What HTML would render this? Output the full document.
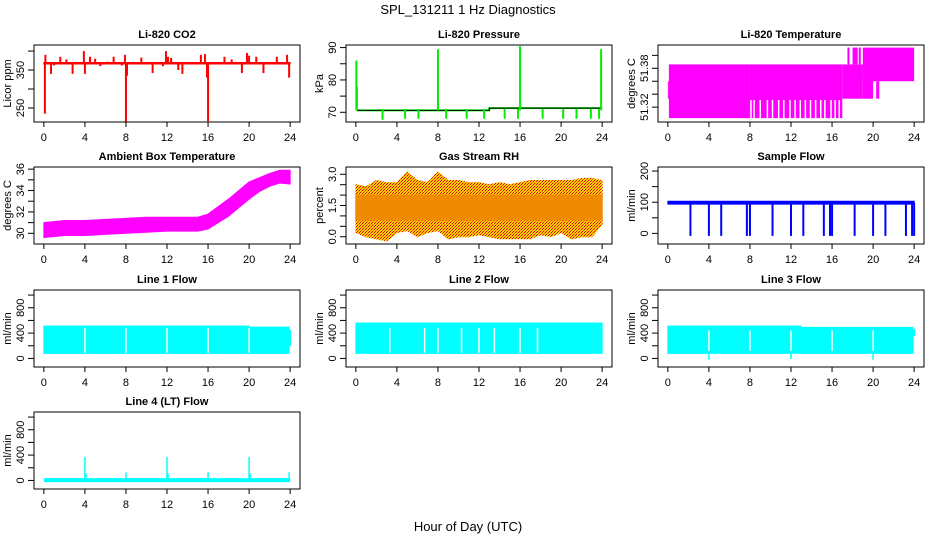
<!DOCTYPE html>
<html><head><meta charset="utf-8"><style>
html,body{margin:0;padding:0;background:#fff;}
svg{display:block;font-family:"Liberation Sans",Arial,sans-serif;}
</style></head><body>
<svg id="chart" width="936" height="540" viewBox="0 0 936 540" xmlns="http://www.w3.org/2000/svg">
<defs>
<pattern id="rhPat" width="3" height="3" patternUnits="userSpaceOnUse">
<rect width="3" height="3" fill="#ffd000"/>
<rect x="0" y="0" width="1" height="1" fill="#e00000"/>
<rect x="2" y="1" width="1" height="1" fill="#e00000"/>
<rect x="1" y="2" width="1" height="1" fill="#f06000"/>
</pattern>
</defs>
<text x="468" y="14" font-size="13" text-anchor="middle">SPL_131211  1 Hz Diagnostics</text>
<text x="468" y="531" font-size="13" text-anchor="middle">Hour of Day (UTC)</text>
</svg>
<script>
// ---- data ----
const xTicks = [0,4,8,12,16,20,24];

const co2BandT = [0,24];
const co2BandLo = [366,366];
const co2BandHi = [370,370];
const co2SpikeT = [0.1,0.15,0.7,1.0,1.6,2.2,2.8,3.9,4.0,4.5,5.0,5.5,6.2,6.8,7.6,7.9,8.0,8.1,9.5,10.6,11.6,11.9,12.1,12.4,13.1,13.5,15.3,15.7,15.9,16.0,17.6,18.3,19.3,19.8,20.0,20.7,21.4,22.7,23.7,23.9];
const co2SpikeV = [235,390,340,362,385,378,340,400,340,385,380,360,372,385,362,390,213,335,383,342,360,400,385,382,350,340,390,392,330,215,385,378,342,395,388,385,342,385,390,330];
const co2Ticks = [250,300,350,400];
const co2Labels = ["250","","350",""];

const presT = [0.1,13,13,24];
const presV = [70.6,70.6,71.3,71.3];
const presSpikeT = [0.05,0.1,8,16,23.9];
const presSpikeV = [86,78,89.5,90.5,89.5];
const presDipT = [2.6,4.8,6.1,8.8,10.8,12.5,14.5,15.8,18.2,20.2,21.5,22.9,23.7];
const presDipV = [67.7,68,68,68,68,68,68,68,68,68,68,68,68];
const presTicks = [70,75,80,85,90];
const presLabels = ["70","","80","","90"];

const tempT0 = [0,0.1,8,17,19,20.3,17.5,18,18.6,19];
const tempT1 = [0.1,8,17,19,20,20.6,17.7,18.5,18.8,24];
const tempLo = [51.333,51.303,51.303,51.333,51.333,51.333,51.386,51.386,51.386,51.36];
const tempHi = [51.36,51.386,51.386,51.386,51.386,51.36,51.412,51.412,51.412,51.412];
const tempGapT = [8.1,8.4,9.0,9.7,10.2,10.8,11.3,11.9,12.4,12.9,13.4,13.9,14.4,14.9,15.3,15.9,16.3,16.7];
const tempTicks = [51.32,51.34,51.36,51.38,51.40];
const tempLabels = ["51.32","","","51.38",""];

const ambT = [0,2,4,6,8,10,12,14,15,16,17,18,19,20,21,22,23,24];
const ambLo = [29.6,29.8,29.8,29.9,30.0,30.1,30.2,30.2,30.2,30.4,31.0,31.6,32.4,33.2,33.9,34.4,34.7,34.6];
const ambHi = [31.0,31.2,31.2,31.3,31.4,31.5,31.5,31.5,31.5,31.8,32.5,33.2,34.0,34.8,35.2,35.6,35.9,35.9];
const ambTicks = [30,31,32,33,34,35,36];
const ambLabels = ["30","","32","","34","","36"];

const rhT = [0,1,2,3,4,5,6,7,8,9,10,11,12,13,14,15,16,17,18,19,20,21,22,23,24];
const rhMax = [2.5,2.4,2.7,2.6,2.6,3.1,2.7,2.6,3.1,2.7,2.7,2.6,2.6,2.5,2.6,2.5,2.6,2.7,2.7,2.7,2.7,2.7,2.8,2.8,2.7];
const rhMin = [0.2,0.0,-0.1,-0.2,0.2,0.3,0.0,0.2,0.3,-0.1,0.0,0.0,0.1,0.0,-0.1,-0.1,-0.1,-0.1,0.1,0.0,0.2,-0.1,0.0,0.0,0.6];
const rhTicks = [0,0.5,1,1.5,2,2.5,3];
const rhLabels = ["0.0","","","1.5","","","3.0"];

const sfBandT = [0,24];
const sfBandLo = [94,94];
const sfBandHi = [103,103];
const sfDipT = [2.2,4.0,5.2,7.7,8.0,10.2,12.0,13.2,15.2,15.8,16.0,18.2,20.0,21.2,23.2,23.8,24.0];
const sfDipV = [-8,-8,-8,-8,-8,-8,-8,-8,-8,-8,-8,-8,-8,-8,-8,-8,-8];
const sfTicks = [0,50,100,150,200];
const sfLabels = ["0","","100","","200"];

const flowTicks = [0,200,400,600,800,1000];
const flowLabels = ["0","","400","","800",""];
const l1T = [0,20,20,23.9];
const l1Lo = [80,80,80,80];
const l1Hi = [510,510,495,495];
const l1GapT = [4,8,12,16,20];
const l2T = [0,24];
const l2Lo = [80,80];
const l2Hi = [560,560];
const l2GapT = [3.3,6.7,8,10.3,12,13.5,16,17.7];
const l3T = [0,13,13,23.9];
const l3Lo = [80,80,80,80];
const l3Hi = [510,510,490,490];
const l3GapT = [4,8,12,16,20];
const l3DipT = [4.0,12.0,20.0];
const l3DipV = [-20,-10,-20];
const l4T = [0,24];
const l4V = [5,5];
const l4SpikeT = [4,4.1,8,12,12.1,16,20,20.1,23.9];
const l4SpikeV = [370,110,130,370,110,130,370,110,130];

// ---- drawing ----
const svg = document.getElementById('chart');
const NS = 'http://www.w3.org/2000/svg';
const colL = [34,346,658], rowT = [45,167,290,412], PW = 266, PH = 77;
function mk(tag, attrs, parent){
  const e = document.createElementNS(NS, tag);
  for (const k in attrs) e.setAttribute(k, attrs[k]);
  (parent||svg).appendChild(e);
  return e;
}
let clipN = 0;
function panel(col,row,ymin,ymax,title,ylab,yticks,ylabels,name){
  const L = colL[col], T = rowT[row];
  const g = mk('g',{});
  
  
  const sx = t => L + (t+0.96)/25.92*PW;
  const sy = v => T + PH*(ymax-v)/(ymax-ymin);
  const id = 'clip'+(clipN++);
  const cp = mk('clipPath',{id:id},g);
  mk('rect',{x:L,y:T,width:PW,height:PH},cp);
  const plot = mk('g',{'clip-path':'url(#'+id+')'},g);
  
  
  const box = mk('rect',{x:L,y:T,width:PW,height:PH,fill:'none',stroke:'#000','stroke-width':1},g);
  
  
  const tt = mk('text',{x:L+PW/2,y:T-7,'font-size':11,'font-weight':'bold','text-anchor':'middle'},g);
  tt.textContent = title;
  
  
  const xa = mk('g',{},g);
  
  
  mk('line',{x1:sx(xTicks[0]),x2:sx(xTicks[xTicks.length-1]),y1:T+PH,y2:T+PH,stroke:'#000'},xa);
  xTicks.forEach(t=>{
    mk('line',{x1:sx(t),x2:sx(t),y1:T+PH,y2:T+PH+5,stroke:'#000'},xa);
    const tx = mk('text',{x:sx(t),y:T+PH+19,'font-size':11,'text-anchor':'middle'},xa);
    tx.textContent = t;
    
    
  });
  const ya = mk('g',{},g);
  
  
  mk('line',{x1:L,x2:L,y1:sy(yticks[0]),y2:sy(yticks[yticks.length-1]),stroke:'#000'},ya);
  yticks.forEach((v,i)=>{
    mk('line',{x1:L-6,x2:L,y1:sy(v),y2:sy(v),stroke:'#000'},ya);
    if (ylabels[i]) {
      const y = sy(v), x = L-10;
      const tx = mk('text',{x:x,y:y,'font-size':11,'text-anchor':'middle',transform:'rotate(-90 '+x+' '+y+')'},ya);
      tx.textContent = ylabels[i];
      
      
    }
  });
  const yx = L-23, yy = T+PH/2;
  const yt = mk('text',{x:yx,y:yy,'font-size':11,'text-anchor':'middle',transform:'rotate(-90 '+yx+' '+yy+')'},g);
  yt.textContent = ylab;
  
  
  return {sx,sy,plot};
}
function band(p,ts,lo,hi,fill,name){
  let d = 'M'+ts.map((t,i)=>p.sx(t)+','+p.sy(hi[i])).join(' L');
  for (let i=ts.length-1;i>=0;i--) d += ' L'+p.sx(ts[i])+','+p.sy(lo[i]);
  const e = mk('path',{d:d+' Z',fill:fill,stroke:fill,'stroke-width':1},p.plot);
  
  
}
function vlines(p,ts,v0,vs,color,w,name){
  ts.forEach((t,i)=>{
    const base = Array.isArray(v0) ? v0[i] : v0;
    const e = mk('line',{x1:p.sx(t),x2:p.sx(t),y1:p.sy(base),y2:p.sy(vs[i]),stroke:color,'stroke-width':w},p.plot);
    
    
  });
}
function poly(p,ts,vs,color,w,name){
  const e = mk('polyline',{points:ts.map((t,i)=>p.sx(t)+','+p.sy(vs[i])).join(' '),fill:'none',stroke:color,'stroke-width':w},p.plot);
  
  
}

let p = panel(0,0,213,416,'Li-820 CO2','Licor ppm',co2Ticks,co2Labels,'co2');
band(p,co2BandT,co2BandLo,co2BandHi,'#ff0000','co2-series');
vlines(p,co2SpikeT,368,co2SpikeV,'#ff0000',2,'co2-spike');

p = panel(1,0,67,90.8,'Li-820 Pressure','kPa',presTicks,presLabels,'pressure');
poly(p,presT,presV,'#00ee00',2,'pressure-series');
poly(p,presT,presV,'#000',1,'pressure-series-dots');
vlines(p,presSpikeT,70.6,presSpikeV,'#00ee00',2,'pressure-spike');
vlines(p,presDipT,71,presDipV,'#00ee00',2,'pressure-dip');

p = panel(2,0,51.297,51.416,'Li-820 Temperature','degrees C',tempTicks,tempLabels,'li820-temp');
tempT0.forEach((t,i)=>{
  const e = mk('rect',{x:p.sx(t),y:p.sy(tempHi[i]),width:Math.max(1,p.sx(tempT1[i])-p.sx(t)),height:p.sy(tempLo[i])-p.sy(tempHi[i]),fill:'#ff00ff'},p.plot);
  
  
});
vlines(p,tempGapT,51.302,tempGapT.map(()=>51.331),'#ffffff',1.5,'li820-temp-gap');

p = panel(0,1,29.0,36.2,'Ambient Box Temperature','degrees C',ambTicks,ambLabels,'ambient-temp');
band(p,ambT,ambLo,ambHi,'#ff00ff','ambient-temp-series');

p = panel(1,1,-0.35,3.35,'Gas Stream RH','percent',rhTicks,rhLabels,'gas-rh');
band(p,rhT,rhMin,rhMax,'url(#rhPat)','gas-rh-envelope');
band(p,[0,24],[0.8,0.8],[2.0,2.0],'#f08a00','gas-rh-core');

p = panel(2,1,-34,213,'Sample Flow','ml/min',sfTicks,sfLabels,'sample-flow');
band(p,sfBandT,sfBandLo,sfBandHi,'#0000ff','sample-flow-series');
vlines(p,sfDipT,98,sfDipV,'#0000ff',2,'sample-flow-dip');

function gaps(p,ts,lo,hi,name){ vlines(p,ts,lo,ts.map(()=>hi),'#ffffff',1.5,name); }
p = panel(0,2,-135,1080,'Line 1 Flow','ml/min',flowTicks,flowLabels,'line1-flow');
band(p,l1T,l1Lo,l1Hi,'#00ffff','line1-flow-series');
gaps(p,l1GapT,90,480,'line1-flow-gap');
vlines(p,[24],200,[450],'#00ffff',2,'line1-flow-end');

p = panel(1,2,-135,1080,'Line 2 Flow','ml/min',flowTicks,flowLabels,'line2-flow');
band(p,l2T,l2Lo,l2Hi,'#00ffff','line2-flow-series');
gaps(p,l2GapT,90,480,'line2-flow-gap');

p = panel(2,2,-135,1080,'Line 3 Flow','ml/min',flowTicks,flowLabels,'line3-flow');
band(p,l3T,l3Lo,l3Hi,'#00ffff','line3-flow-series');
gaps(p,l3GapT,120,440,'line3-flow-gap');
vlines(p,l3DipT,80,l3DipV,'#00ffff',1.5,'line3-flow-dip');
vlines(p,[24],350,[460],'#00ffff',2,'line3-flow-end');

p = panel(0,3,-135,1080,'Line 4 (LT) Flow','ml/min',flowTicks,flowLabels,'line4-flow');
poly(p,l4T,l4V,'#00ffff',4,'line4-flow-series');
vlines(p,l4SpikeT,5,l4SpikeV,'#00ffff',1.5,'line4-flow-spike');
</script>
</body></html>
